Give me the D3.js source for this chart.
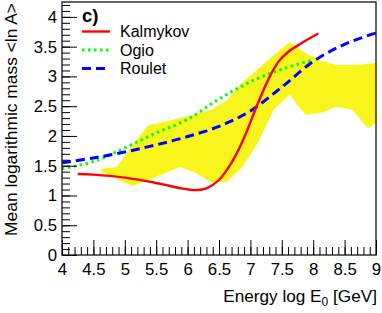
<!DOCTYPE html>
<html>
<head>
<meta charset="utf-8">
<script src="https://cdnjs.cloudflare.com/ajax/libs/d3/7.8.5/d3.min.js"></script>
<style>
  body { margin: 0; background: #fff; }
  text { font-family: "Liberation Sans", Arial, sans-serif; }
</style>
</head>
<body>
<div id="chart"></div>
<script>
// band of measurements (yellow)
var bandX    = [4.625, 4.875, 5.125, 5.375, 5.625, 5.875, 6.125, 6.375, 6.625, 6.875, 7.125, 7.375, 7.625, 7.875, 8.125, 8.375, 8.625, 8.875, 9.0];
var bandHigh = [1.45, 1.48, 1.85, 2.18, 2.24, 2.30, 2.36, 2.44, 2.60, 2.90, 3.13, 3.36, 3.58, 3.39, 3.26, 3.19, 3.19, 3.21, 3.23];
var bandLow  = [1.40, 1.28, 1.16, 1.26, 1.37, 1.48, 1.38, 1.22, 1.23, 1.48, 1.90, 2.45, 2.69, 2.35, 2.39, 2.49, 2.44, 2.12, 2.22];

// Kalmykov
var kalX = [4.25, 4.5, 5.0, 5.5, 5.9, 6.1, 6.3, 6.5, 6.7, 6.9, 7.1, 7.3, 7.45, 7.6, 7.8, 8.08];
var kalY = [1.36, 1.35, 1.30, 1.21, 1.12, 1.09, 1.12, 1.26, 1.55, 1.97, 2.50, 2.98, 3.25, 3.41, 3.55, 3.72];

// Ogio
var ogiX = [4.0, 4.5, 5.0, 5.5, 6.0, 6.5, 7.0, 7.5, 8.0];
var ogiY = [1.45, 1.57, 1.80, 2.05, 2.28, 2.62, 2.91, 3.12, 3.28];

// Roulet
var rouX = [4.0, 4.5, 5.0, 5.5, 6.0, 6.5, 7.0, 7.5, 8.0, 8.5, 9.0];
var rouY = [1.55, 1.63, 1.73, 1.85, 1.99, 2.16, 2.42, 2.82, 3.25, 3.54, 3.73];

var xTicks = [4, 4.5, 5, 5.5, 6, 6.5, 7, 7.5, 8, 8.5, 9];
var yTicks = [0, 0.5, 1, 1.5, 2, 2.5, 3, 3.5, 4];

var W = 382, H = 313;
var margin = {top: 2, right: 6, bottom: 58, left: 62},
  width = W - margin.left - margin.right,
  height = H - margin.top - margin.bottom;

var x = d3.scaleLinear().domain([4, 9]).range([0, width]);
var y = d3.scaleLinear().domain([0, 4.25]).range([height, 0]);

var svg = d3.select('#chart')
  .append('svg')
    .attr('width', W)
    .attr('height', H)
  .append('g')
    .attr('transform', 'translate(' + margin.left + ',' + margin.top + ')');

// yellow band
var band = bandX.map(function(d, i) { return [d, bandHigh[i]]; })
  .concat(bandX.map(function(d, i) { return [d, bandLow[i]]; }).reverse());

svg.append('path')
  .attr('d', d3.line().x(function(d) { return x(d[0]); }).y(function(d) { return y(d[1]); })(band) + 'Z')
  .attr('fill', '#f7f51c')
  .attr('stroke', 'none');

var line = d3.line()
  .x(function(d) { return x(d[0]); })
  .y(function(d) { return y(d[1]); })
  .curve(d3.curveCatmullRom);

function pts(xs, ys) { return xs.map(function(d, i) { return [d, ys[i]]; }); }

svg.append('path')
  .attr('d', line(pts(ogiX, ogiY)))
  .attr('fill', 'none')
  .attr('stroke', '#00ff00')
  .attr('stroke-width', 3)
  .attr('stroke-dasharray', '2.5,3.5');

svg.append('path')
  .attr('d', line(pts(rouX, rouY)))
  .attr('fill', 'none')
  .attr('stroke', '#0000ff')
  .attr('stroke-width', 3)
  .attr('stroke-dasharray', '9,5');

svg.append('path')
  .attr('d', line(pts(kalX, kalY)))
  .attr('fill', 'none')
  .attr('stroke', '#ff0000')
  .attr('stroke-width', 2.4);

// axes, ROOT style ticks inside
var xMinor = d3.range(40, 91).map(function(d) { return d / 10; });
var yMinor = d3.range(0, 43).map(function(d) { return d / 10; });

svg.append('g')
  .attr('transform', 'translate(0,' + height + ')')
  .call(d3.axisBottom(x).tickValues(xMinor).tickSize(-8).tickFormat(''))
  .call(function(g) { g.select('.domain').remove(); });

svg.append('g')
  .attr('class', 'x_axis')
  .attr('transform', 'translate(0,' + height + ')')
  .call(d3.axisBottom(x).tickValues(xTicks).tickSize(-15).tickPadding(8)
    .tickFormat(function(d) { return d; }))
  .call(function(g) { g.select('.domain').remove(); });

svg.append('g')
  .call(d3.axisLeft(y).tickValues(yMinor).tickSize(-8).tickFormat(''))
  .call(function(g) { g.select('.domain').remove(); });

svg.append('g')
  .attr('class', 'y_axis')
  .call(d3.axisLeft(y).tickValues(yTicks).tickSize(-15).tickPadding(5)
    .tickFormat(function(d) { return d; }))
  .call(function(g) { g.select('.domain').remove(); });

svg.selectAll('.tick line').attr('stroke', '#000').attr('stroke-width', 1);
svg.selectAll('.tick text').attr('font-size', 16.8).attr('fill', '#000')
  .attr('font-family', '"Liberation Sans", Arial, sans-serif');

// frame
svg.append('rect')
  .attr('x', 0).attr('y', 0)
  .attr('width', width).attr('height', height)
  .attr('fill', 'none')
  .attr('stroke', '#000')
  .attr('stroke-width', 1.2);

// axis titles
var xt = svg.append('text')
  .attr('x', width + 1)
  .attr('y', height + 47)
  .attr('text-anchor', 'end')
  .attr('font-size', 17.2);
xt.append('tspan').text('Energy log E');
xt.append('tspan').attr('font-size', 12).attr('dy', 4).text('0');
xt.append('tspan').attr('dy', -4).text(' [GeV]');

svg.append('text')
  .attr('transform', 'translate(' + (17 - margin.left) + ',1) rotate(-90)')
  .attr('text-anchor', 'end')
  .attr('font-size', 17.4)
  .text('Mean logarithmic mass <ln A>');

// legend
svg.append('text')
  .attr('x', 20).attr('y', 20)
  .attr('font-size', 18.5)
  .attr('font-weight', 'bold')
  .text('c)');

var legend = [
  {name: 'Kalmykov', color: '#ff0000', dash: null, w: 2.4},
  {name: 'Ogio', color: '#00ff00', dash: '2.5,3.5', w: 3},
  {name: 'Roulet', color: '#0000ff', dash: '9,5', w: 3}
];

legend.forEach(function(d, i) {
  var ly = 29.5 + i * 18.5;
  svg.append('line')
    .attr('x1', 20).attr('x2', 48)
    .attr('y1', ly).attr('y2', ly)
    .attr('stroke', d.color)
    .attr('stroke-width', d.w)
    .attr('stroke-dasharray', d.dash);
  svg.append('text')
    .attr('x', 58).attr('y', ly)
    .attr('dy', '0.36em')
    .attr('font-size', 16)
    .text(d.name);
});
</script>
</body>
</html>
